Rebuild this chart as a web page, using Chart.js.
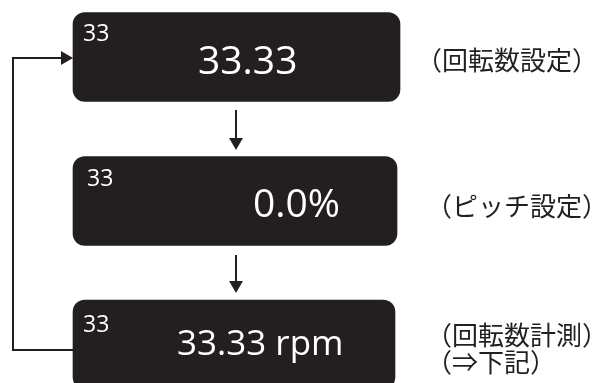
<!DOCTYPE html>
<html>
<head>
<meta charset="utf-8">
<script src="https://cdn.jsdelivr.net/npm/chart.js@4"></script>
<style>
html,body{margin:0;padding:0;background:#fff;}
canvas{display:block;}
</style>
</head>
<body>
<canvas id="c" width="601" height="383"></canvas>
<script>
// ---- content (data) ----
const panelModes   = ["33", "33", "33"];
const panelValues  = ["33.33", "0.0%", "33.33 rpm"];
const panelCaptions = [["（回転数設定）"], ["（ピッチ設定）"], ["（回転数計測）", "（⇒下記）"]];

// ---- layout (positions in canvas units) ----
const panelCenters = [57, 201, 344.5];
const panelLeft = [73, 73, 73];
const panelRight = [400, 397, 395];
const modePos = [[83, 41], [87, 186], [83, 332]];
const valuePos = [[198, 74], [253, 217], [177, 355]];
const valueSizes = [39, 39, 35];
const captionPos = [[416, 60], [426, 206], [426, 335]];
const INK = '#231f20';

const arrowDown1 = [{x:236, y:110}, {x:236, y:142}];
const arrowDown2 = [{x:236, y:255}, {x:236, y:285}];
const loopPath = [{x:73, y:350}, {x:13, y:350}, {x:13, y:58}, {x:65, y:58}];

const textPlugin = {
  id: 'panelText',
  afterDatasetsDraw(chart) {
    const ctx = chart.ctx, xs = chart.scales.x, ys = chart.scales.y;
    ctx.save();
    ctx.fillStyle = '#ffffff';
    ctx.textBaseline = 'alphabetic';
    ctx.textAlign = 'left';
    panelModes.forEach((t, i) => {
      ctx.font = '23px "Open Sans"';
      ctx.fillText(t, xs.getPixelForValue(modePos[i][0]), ys.getPixelForValue(modePos[i][1]));
    });
    panelValues.forEach((t, i) => {
      ctx.font = valueSizes[i] + 'px "Open Sans"';
      ctx.fillText(t, xs.getPixelForValue(valuePos[i][0]), ys.getPixelForValue(valuePos[i][1]));
    });
    ctx.fillStyle = INK;
    ctx.textBaseline = 'middle';
    ctx.font = '26px "Noto Sans CJK JP"';
    panelCaptions.forEach((lines, i) => {
      lines.forEach((t, j) => {
        ctx.fillText(t, xs.getPixelForValue(captionPos[i][0]), ys.getPixelForValue(captionPos[i][1] + j * 27));
      });
    });
    ctx.restore();
  }
};

function lineDs(pts, rot) {
  const n = pts.length;
  return {
    type: 'line',
    data: pts,
    borderColor: INK,
    borderWidth: 2,
    fill: false,
    tension: 0,
    pointStyle: 'triangle',
    pointRadius: pts.map((p, i) => i === n - 1 ? 8 : 0),
    pointHoverRadius: 0,
    rotation: rot,
    pointBackgroundColor: INK,
    pointBorderColor: INK,
    pointBorderWidth: 0,
    order: 2
  };
}

Promise.all([
  document.fonts.load('38px "Open Sans"'),
  document.fonts.load('26px "Noto Sans CJK JP"', '回転数設定')
]).catch(()=>{}).then(() => {
  new Chart(document.getElementById('c'), {
    type: 'bar',
    data: {
      datasets: [
        {
          type: 'bar',
          indexAxis: 'y',
          data: panelCenters.map((c, i) => ({y: c, x: [panelLeft[i], panelRight[i]]})),
          backgroundColor: INK,
          borderWidth: 0,
          borderRadius: 12,
          borderSkipped: false,
          barThickness: 89,
          grouped: false,
          order: 1
        },
        lineDs(arrowDown1, 180),
        lineDs(arrowDown2, 180),
        lineDs(loopPath, 90)
      ]
    },
    options: {
      responsive: false,
      animation: false,
      devicePixelRatio: 1,
      layout: {padding: 0, autoPadding: false},
      plugins: {legend: {display: false}, tooltip: {enabled: false}},
      events: [],
      scales: {
        x: {type: 'linear', min: 0, max: 601, display: false, offset: false},
        y: {type: 'linear', min: 0, max: 383, reverse: true, display: false, offset: false}
      }
    },
    plugins: [textPlugin]
  });
});
</script>
</body>
</html>
